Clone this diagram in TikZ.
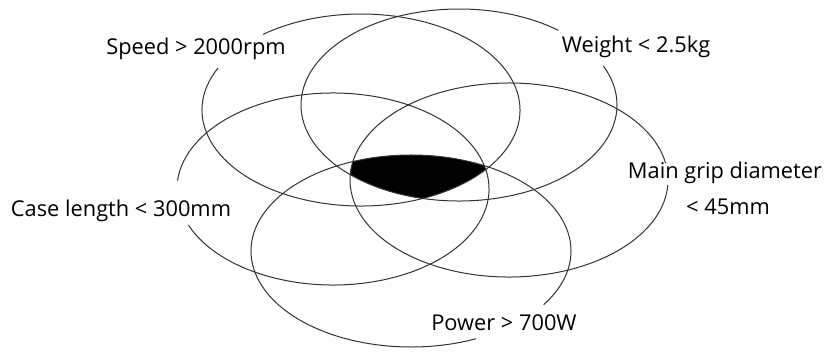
\documentclass[tikz,border=0pt]{standalone}
\usepackage{fontspec}
\setmainfont{Open Sans}
\begin{document}
\begin{tikzpicture}[x=1pt,y=1pt,
  ring/.style={draw=black!80, line width=1pt},
  lbl/.style={font=\fontsize{21.8}{24}\selectfont, inner sep=0pt, anchor=base, text=black}]
\useasboundingbox (0,0) rectangle (826,-354);
% centres
\coordinate (cS) at (361,-110);
\coordinate (cW) at (459,-105);
\coordinate (cM) at (509,-180);
\coordinate (cC) at (333,-189);
\coordinate (cP) at (411,-251);
% intersection of all five sets
\begin{scope}
  \clip (cS) ellipse [x radius=159, y radius=96];
  \clip (cW) ellipse [x radius=158, y radius=96];
  \clip (cM) ellipse [x radius=159, y radius=97];
  \clip (cC) ellipse [x radius=156, y radius=96];
  \clip (cP) ellipse [x radius=160, y radius=96];
  \fill[black] (0,0) rectangle (826,-354);
\end{scope}
% ellipses with gaps for labels
\draw[ring] (cS) ++(154:159 and 96) arc[start angle=154, end angle=488, x radius=159, y radius=96];
\draw[ring] (cW) ++(51:158 and 96) arc[start angle=51, end angle=384, x radius=158, y radius=96];
\draw[ring] (cM) ++(10:159 and 97) arc[start angle=10, end angle=357, x radius=159, y radius=97];
\draw[ring] (cC) ++(202:156 and 96) arc[start angle=202, end angle=535, x radius=156, y radius=96];
\draw[ring] (cP) ++(-34:160 and 96) arc[start angle=-34, end angle=294, x radius=160, y radius=96];
% labels
\node[lbl] (lS) at (196,-54) {Speed > 2000rpm};
\node[lbl] (lW) at (636,-52) {Weight < 2.5kg};
\node[lbl] (lM1) at (725,-178) {Main grip diameter};
\node[lbl] (lM2) at (728,-214) {< 45mm};
\node[lbl] (lC) at (121,-216) {Case length < 300mm};
\node[lbl] (lP) at (504,-330) {Power > 700W};
\end{tikzpicture}
\end{document}
